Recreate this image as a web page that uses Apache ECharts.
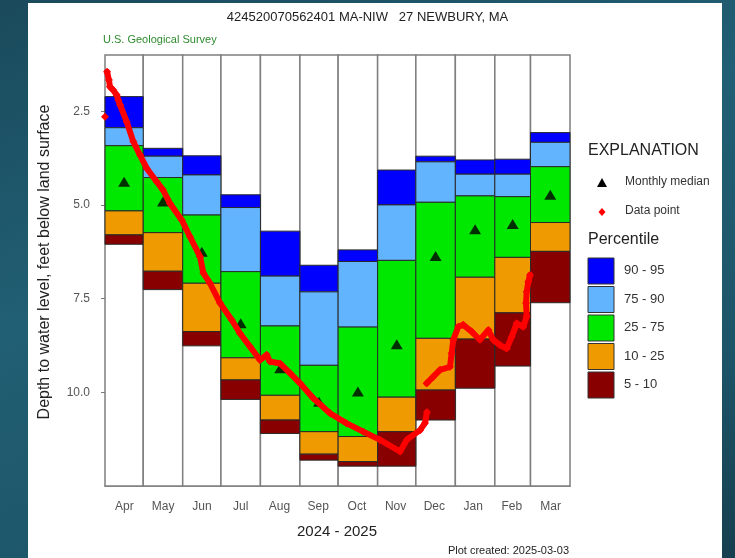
<!DOCTYPE html>
<html>
<head>
<meta charset="utf-8">
<script src="https://cdn.jsdelivr.net/npm/echarts@6/dist/echarts.min.js"></script>
<style>
html,body{margin:0;padding:0;width:735px;height:558px;overflow:hidden;}
body{background:linear-gradient(160deg,#1a4a5c 0%,#215f74 40%,#1d5568 75%,#163f4f 100%);}
#panel{position:absolute;left:28px;top:3px;width:694px;height:555px;background:#fff;}
#chart{position:absolute;left:0;top:0;width:735px;height:558px;}
</style>
</head>
<body>
<div id="panel"></div>
<div id="chart"></div>
<script>
// ---- data ----
const months = ['Apr','May','Jun','Jul','Aug','Sep','Oct','Nov','Dec','Jan','Feb','Mar'];
const monthDays = [30,31,30,31,31,30,31,30,31,31,28,31];
const p95 = [2.11,3.49,3.69,4.73,5.70,6.61,6.20,4.07,3.70,3.80,3.78,3.07];
const p90 = [2.94,3.70,4.20,5.07,6.90,7.32,6.51,5.00,3.85,4.18,4.18,3.33];
const p75 = [3.42,4.27,5.27,6.78,8.23,9.28,8.26,6.48,4.93,4.76,4.78,3.98];
const p25 = [5.16,5.74,7.09,9.08,10.08,11.05,11.18,10.13,8.56,6.93,6.40,5.47];
const p10 = [5.80,6.77,8.38,9.67,10.74,11.65,11.85,11.05,9.94,8.58,7.88,6.24];
const p05 = [6.05,7.26,8.76,10.19,11.10,11.81,11.97,11.97,10.74,9.89,9.30,7.61];
const medians = [4.38,4.91,6.25,8.16,9.36,10.25,9.98,8.72,6.36,5.65,5.51,4.73];
// data points: day since Apr 1 2024, depth (ft); null marks a gap
const pointDays = [0,null,1.6,3.1,3.9,6.3,9.2,10.4,11.8,17.0,22.2,27.5,32.7,40.6,45.5,51.0,60.2,66.7,74.6,77.2,82.4,90.3,99.5,106.0,113.8,121.7,126.9,129.5,137.4,145.2,153.1,163.5,176.6,189.7,202.7,215.9,231.6,236.8,247.3,251.2,252.7,null,252.5,257.5,263.0,270.8,272.1,273.4,277.3,281.2,287.8,294.3,300.9,304.8,310.0,315.3,319.2,323.2,328.3,331.0,330.5,331.0,332.3,333.6];
const pointDepths = [2.65,null,1.45,1.67,1.85,1.93,2.07,2.20,2.33,2.78,3.31,3.67,4.02,4.38,4.60,4.96,5.40,5.85,6.38,6.82,7.09,7.62,8.07,8.43,8.78,9.14,9.00,9.18,9.23,9.49,9.76,10.16,10.56,10.83,11.05,11.27,11.58,11.27,11.01,10.82,10.53,null,9.76,9.59,9.40,9.32,8.96,8.60,8.25,8.20,8.38,8.60,8.34,8.60,8.74,8.83,8.52,8.16,8.25,7.98,7.62,7.32,7.05,6.87];
const yTicks = [2.5,5.0,7.5,10.0];
const bandLabels = ['90 - 95','75 - 90','25 - 75','10 - 25','5 - 10'];
const bandColors = ['#0000ff','#63b4ff','#00e800','#ee9a00','#880000'];

// ---- build ----
const starts = [];
let acc = 0;
monthDays.forEach(d => { starts.push(acc); acc += d; });
const totalDays = acc;
const Y_MIN = 1.0, Y_MAX = 12.5;

const colData = months.map((m,i) => [starts[i], starts[i]+monthDays[i], Y_MIN, Y_MAX]);
const bandData = [];
const levels = [p95,p90,p75,p25,p10,p05];
months.forEach((m,i) => {
  for (let k=0;k<5;k++) bandData.push([starts[i], starts[i]+monthDays[i], levels[k][i], levels[k+1][i], k]);
});
const medData = months.map((m,i) => [starts[i]+monthDays[i]/2, medians[i]]);

const segments = [];
let cur = [];
pointDays.forEach((d,i) => {
  if (d === null || pointDepths[i] === null) { if (cur.length) segments.push(cur); cur = []; }
  else cur.push([d, pointDepths[i]]);
});
if (cur.length) segments.push(cur);

function rectItem(params, api, fill, stroke, lw) {
  const a = api.coord([api.value(0), api.value(2)]);
  const b = api.coord([api.value(1), api.value(3)]);
  return {
    type:'rect',
    shape:{x:a[0], y:Math.min(a[1],b[1]), width:b[0]-a[0], height:Math.abs(b[1]-a[1])},
    style:{fill:fill, stroke:stroke, lineWidth:lw}
  };
}

const FONT = '"Liberation Sans", Arial, sans-serif';
const series = [
  {type:'custom', xAxisIndex:0, yAxisIndex:0, data:colData, silent:true, z:1,
   renderItem:(p,api)=>rectItem(p,api,'#ffffff','#7f7f7f',1.5)},
  {type:'custom', xAxisIndex:0, yAxisIndex:0, data:bandData, silent:true, z:2,
   renderItem:(p,api)=>rectItem(p,api,bandColors[api.value(4)],'#2a2a2a',1)},
  {type:'scatter', xAxisIndex:0, yAxisIndex:0, data:medData, symbol:'triangle', symbolSize:[12,10],
   itemStyle:{color:'#000'}, z:3, silent:true}
];
segments.forEach(seg => series.push({
  type:'line', xAxisIndex:0, yAxisIndex:0, data:seg, z:4, silent:true,
  symbol:'diamond', symbolSize:8, showSymbol:true,
  lineStyle:{color:'#ff0000', width:6, join:'round', cap:'round'}, itemStyle:{color:'#ff0000'}
}));

const legendGraphics = [
  {type:'text', left:588, top:143, style:{text:'EXPLANATION', font:'16px '+FONT, fill:'#222'}},
  {type:'polygon', shape:{points:[[602,178],[597,187],[607,187]]}, style:{fill:'#000'}},
  {type:'text', left:625, top:176, style:{text:'Monthly median', font:'12px '+FONT, fill:'#333'}},
  {type:'polygon', shape:{points:[[602,208],[605.5,212],[602,216],[598.5,212]]}, style:{fill:'#ff0000'}},
  {type:'text', left:625, top:205, style:{text:'Data point', font:'12px '+FONT, fill:'#333'}},
  {type:'text', left:588, top:232, style:{text:'Percentile', font:'16px '+FONT, fill:'#222'}}
];
bandLabels.forEach((lab,k) => {
  const top = 258 + k*28.5;
  legendGraphics.push({type:'rect', shape:{x:588, y:top, width:26, height:26}, style:{fill:bandColors[k], stroke:'#333', lineWidth:1}});
  legendGraphics.push({type:'text', left:624, top:top+6, style:{text:lab, font:'13px '+FONT, fill:'#333'}});
});

const option = {
  animation:false,
  backgroundColor:'transparent',
  textStyle:{fontFamily:FONT},
  grid:{left:105, right:165, top:55, bottom:72, containLabel:false},
  xAxis:[
    {type:'value', min:0, max:totalDays, axisLabel:{show:false}, axisTick:{show:false}, splitLine:{show:false},
     axisLine:{show:true, lineStyle:{color:'#777', width:1.5}}},
    {type:'category', data:months, position:'bottom', boundaryGap:true, axisLine:{show:false}, axisTick:{show:false},
     axisLabel:{color:'#555', fontSize:12, margin:15, fontFamily:FONT}}
  ],
  yAxis:[{
    type:'value', inverse:true, min:Y_MIN, max:Y_MAX, splitLine:{show:false},
    axisLine:{show:false},
    axisTick:{show:true, length:4, lineStyle:{color:'#777'}, customValues:yTicks},
    axisLabel:{color:'#555', fontSize:12, margin:15, fontFamily:FONT, customValues:yTicks, formatter:v=>Number(v).toFixed(1)}
  }],
  graphic:[
    {type:'text', left:'center', top:11, style:{text:'424520070562401 MA-NIW   27 NEWBURY, MA', font:'13px '+FONT, fill:'#222'}},
    {type:'text', left:103, top:34, style:{text:'U.S. Geological Survey', font:'11px '+FONT, fill:'#2e8b2e'}},
    {type:'text', x:45, y:262, rotation:Math.PI/2, style:{text:'Depth to water level, feet below land surface', font:'16px '+FONT, fill:'#222', align:'center', verticalAlign:'middle'}},
    {type:'text', x:337, y:532, style:{text:'2024 - 2025', font:'15px '+FONT, fill:'#222', align:'center', verticalAlign:'middle'}},
    {type:'text', x:569, y:551, style:{text:'Plot created: 2025-03-03', font:'11px '+FONT, fill:'#222', align:'right', verticalAlign:'middle'}}
  ].concat(legendGraphics),
  series:series
};
const chart = echarts.init(document.getElementById('chart'), null, {renderer:'canvas'});
chart.setOption(option);
</script>
</body>
</html>
